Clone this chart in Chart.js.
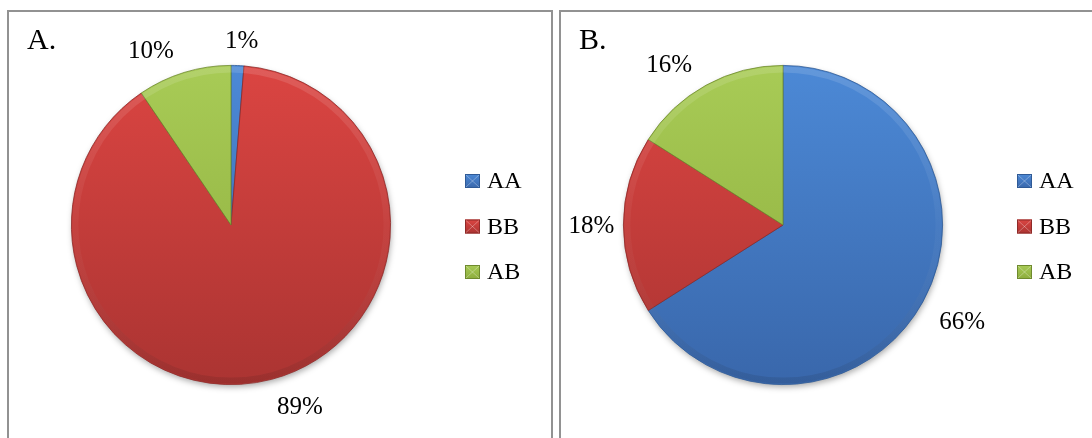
<!DOCTYPE html>
<html><head><meta charset="utf-8">
<script src="https://cdn.jsdelivr.net/npm/chart.js@4.4.1/dist/chart.umd.min.js"></script>
<style>
html,body{margin:0;padding:0;background:#fff;overflow:hidden;width:1092px;height:438px;}
.panel{position:absolute;top:10px;height:500px;border-top:2px solid #929292;border-left:2px solid #929292;border-right:2px solid #929292;box-sizing:border-box;}
canvas{position:absolute;}
</style></head>
<body>
<div class="panel" style="left:7px;width:546px;"></div>
<div class="panel" style="left:559px;width:560px;"></div>
<canvas id="cA" style="left:10px;top:13px;width:540px;height:425px;" width="540" height="425"></canvas>
<canvas id="cB" style="left:562px;top:13px;width:530px;height:425px;" width="530" height="425"></canvas>
<script>
const categories = ['AA', 'BB', 'AB'];
const valuesA = [1.3, 89.2, 9.5];
const valuesB = [66, 18, 16];
const titleA = 'A.';
const titleB = 'B.';

const colorTop = ['#4c89d6', '#db4542', '#a8cb56'];
const colorBot = ['#3967ab', '#ab3432', '#8cac3c'];
const colorEdge = ['#2f5a96', '#8e2a28', '#6f8a2e'];
const serif = '"Liberation Serif","Times New Roman",serif';

function sliceFill(ctx) {
  const chart = ctx.chart;
  const i = ctx.dataIndex;
  const ca = chart.chartArea;
  if (!ca) return colorTop[i];
  const g = chart.ctx.createLinearGradient(0, ca.top, 0, ca.bottom);
  g.addColorStop(0, colorTop[i]);
  g.addColorStop(1, colorBot[i]);
  return g;
}

const decor = {
  id: 'decor',
  beforeDatasetsDraw(chart) {
    const arc = chart.getDatasetMeta(0).data[0];
    if (!arc) return;
    const {x, y, outerRadius} = arc.getProps(['x', 'y', 'outerRadius'], true);
    const c = chart.ctx;
    c.save();
    c.shadowColor = 'rgba(0,0,0,0.35)';
    c.shadowBlur = 6;
    c.shadowOffsetY = 3;
    c.shadowOffsetX = 1;
    c.beginPath();
    c.arc(x, y, outerRadius - 0.5, 0, Math.PI * 2);
    c.fillStyle = '#888';
    c.fill();
    c.restore();
  },
  afterDatasetsDraw(chart, args, opts) {
    const meta = chart.getDatasetMeta(0);
    const c = chart.ctx;
    const first = meta.data[0].getProps(['x', 'y', 'outerRadius'], true);
    // subtle rim bevel
    c.save();
    const g = c.createLinearGradient(0, first.y - first.outerRadius, 0, first.y + first.outerRadius);
    g.addColorStop(0, 'rgba(255,255,255,0.13)');
    g.addColorStop(0.5, 'rgba(255,255,255,0.03)');
    g.addColorStop(1, 'rgba(0,0,0,0.10)');
    c.strokeStyle = g;
    c.lineWidth = 6;
    c.beginPath();
    c.arc(first.x, first.y, first.outerRadius - 4, 0, Math.PI * 2);
    c.stroke();
    c.restore();

    // percent labels
    const data = chart.data.datasets[0].data;
    const total = data.reduce((a, b) => a + b, 0);
    c.save();
    c.font = '25px ' + serif;
    c.fillStyle = '#000';
    c.textAlign = 'center';
    c.textBaseline = 'middle';
    meta.data.forEach((arc, i) => {
      const p = arc.getProps(['x', 'y', 'startAngle', 'endAngle', 'outerRadius'], true);
      const mid = (p.startAngle + p.endAngle) / 2 + (opts.nudge[i] || 0) * Math.PI / 180;
      const txt = Math.round(data[i] / total * 100) + '%';
      const w = c.measureText(txt).width;
      const cx = Math.cos(mid), sy = Math.sin(mid);
      const ext = Math.abs(cx) * w / 2 + Math.abs(sy) * 10;
      const d = p.outerRadius + opts.pad[i] + ext;
      c.fillText(txt, p.x + cx * d, p.y + sy * d + 1);
    });
    c.restore();

    // title
    c.save();
    c.font = '30px ' + serif;
    c.fillStyle = '#000';
    c.textAlign = 'left';
    c.textBaseline = 'alphabetic';
    c.fillText(opts.title, 17, 36);
    c.restore();

    // legend
    c.save();
    const lx = first.x + 234;
    chart.data.labels.forEach((lab, i) => {
      const cy = first.y + 1.5 + (i - 1) * 45.5;
      const sq = 15;
      const sx = lx, syq = cy - 7;
      const lg = c.createLinearGradient(0, syq, 0, syq + 14);
      lg.addColorStop(0, colorTop[i]);
      lg.addColorStop(1, colorBot[i]);
      c.fillStyle = lg;
      c.fillRect(sx, syq, sq, 14);
      c.strokeStyle = colorEdge[i];
      c.lineWidth = 1;
      c.strokeRect(sx + 0.5, syq + 0.5, sq - 1, 13);
      c.strokeStyle = 'rgba(255,255,255,0.3)';
      c.beginPath();
      c.moveTo(sx + 1, syq + 1); c.lineTo(sx + sq - 1, syq + 13);
      c.moveTo(sx + sq - 1, syq + 1); c.lineTo(sx + 1, syq + 13);
      c.stroke();
      c.font = '24px ' + serif;
      c.fillStyle = '#000';
      c.textBaseline = 'middle';
      c.fillText(lab, lx + 22, cy + 1);
    });
    c.restore();
  }
};

function makePie(id, values, title, nudge, pad, padRight) {
  return new Chart(document.getElementById(id), {
    type: 'pie',
    data: {
      labels: categories,
      datasets: [{
        data: values,
        backgroundColor: sliceFill,
        borderColor: colorEdge,
        borderWidth: 0.8
      }]
    },
    options: {
      responsive: false,
      animation: false,
      layout: {padding: {left: 61, right: padRight, top: 52, bottom: 53}},
      plugins: {
        legend: {display: false},
        tooltip: {enabled: false},
        decor: {title: title, nudge: nudge, pad: pad}
      }
    },
    plugins: [decor]
  });
}

makePie('cA', valuesA, titleA, [1, -6, -7.5], [14, 17, 14], 159);
makePie('cB', valuesB, titleB, [-0.5, 0, -6.5], [19, 9, 16], 149);
</script>
</body></html>
